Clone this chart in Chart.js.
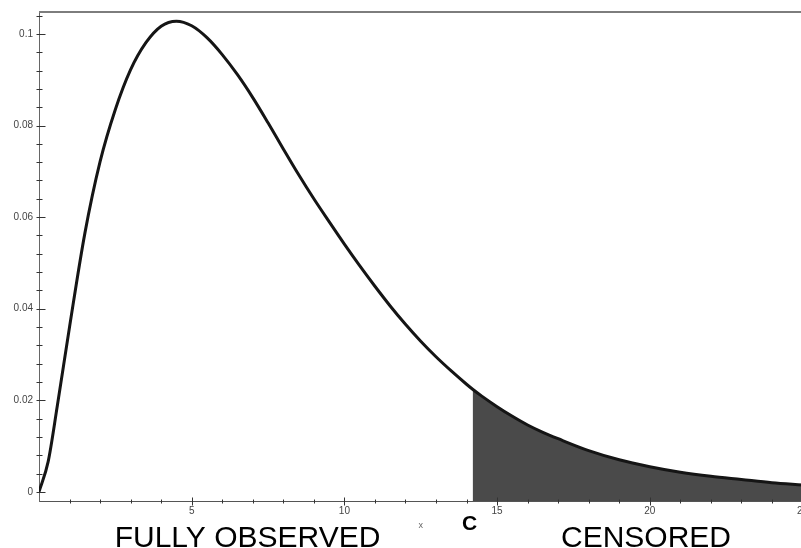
<!DOCTYPE html>
<html><head><meta charset="utf-8">
<script src="https://cdn.jsdelivr.net/npm/chart.js@4.4.0/dist/chart.umd.min.js"></script>
<style>
html,body{margin:0;padding:0;background:#fff;overflow:hidden;}
#wrap{width:801px;height:548px;overflow:hidden;position:relative;background:#fff;}
canvas{display:block;}
</style></head><body>
<div id="wrap"><canvas id="c" width="812" height="548" style="width:812px;height:548px"></canvas></div>
<script>
// ---- data ----
const xValues = [0, 0.3, 0.6, 1.0, 1.5, 2.0, 2.5, 3.0, 3.5, 4.0, 4.5, 5.0, 5.5, 6.0, 6.5, 7.0, 7.5, 8.0, 8.5, 9.0, 9.5,
  10.0, 10.5, 11.0, 11.5, 12.0, 12.5, 13.0, 13.5, 14.0, 14.2, 14.5, 15.0, 15.5, 16.0, 16.5, 17.0, 18.0, 19.0, 20.0,
  21.0, 22.0, 23.0, 24.0, 25.0];
const densityValues = [0, 0.0066, 0.0188, 0.0360, 0.0564, 0.0721, 0.0835, 0.0922, 0.0981, 0.1017, 0.1028, 0.1018,
  0.0992, 0.0955, 0.0911, 0.0861, 0.0806, 0.0749, 0.0693, 0.0640, 0.0590, 0.0541, 0.0494, 0.0449, 0.0406, 0.0366,
  0.0329, 0.0295, 0.0264, 0.0235, 0.0224, 0.0209, 0.0186, 0.0165, 0.0146, 0.0130, 0.0116, 0.0090, 0.0070, 0.0055,
  0.0043, 0.0034, 0.0027, 0.0020, 0.0015];
const censorPoint = 14.2;
const xMajorValues = [5, 10, 15, 20, 25];
const xTickLabels = ['5', '10', '15', '20', '25'];
const yMajorValues = [0, 0.02, 0.04, 0.06, 0.08, 0.1];
const yTickLabels = ['0', '0.02', '0.04', '0.06', '0.08', '0.1'];
const regionLabels = ['FULLY OBSERVED', 'CENSORED'];
const censorLabel = 'C';
const xAxisTitle = 'x';

// ---- build datasets ----
const curvePoints = xValues.map((x, i) => ({x: x, y: densityValues[i]}));
const censoredPoints = curvePoints.filter(p => p.x >= censorPoint);

// tick mark positions (minor + major)
const xTickPositions = [];
for (let i = 0; i <= 25; i++) xTickPositions.push(i);
const yTickPositions = [];
for (let i = 0; i <= 26; i++) yTickPositions.push(+(i * 0.004).toFixed(3));

const isMajorX = v => xMajorValues.some(m => Math.abs(m - v) < 1e-9);
const isMajorY = v => yMajorValues.some(m => Math.abs(m - v) < 1e-9);

const FONT = '"Liberation Sans", Arial, sans-serif';

const decor = {
  id: 'decor',
  afterDraw(chart) {
    const ctx = chart.ctx;
    const xs = chart.scales.x, ys = chart.scales.y;
    const ca = chart.chartArea;
    ctx.save();
    // top frame line
    ctx.strokeStyle = '#7d7d7d';
    ctx.lineWidth = 2;
    ctx.beginPath();
    ctx.moveTo(ca.left, ca.top);
    ctx.lineTo(ca.right, ca.top);
    ctx.stroke();
    // tick marks crossing the axes
    ctx.strokeStyle = '#333';
    ctx.lineWidth = 1;
    const axX = Math.round(ca.left) + 0.5;
    yTickPositions.forEach(v => {
      const y = Math.round(ys.getPixelForValue(v)) + 0.5;
      const major = isMajorY(v);
      ctx.beginPath();
      ctx.moveTo(axX - 3, y);
      ctx.lineTo(axX + (major ? 6 : 3), y);
      ctx.stroke();
    });
    const axY = Math.round(ca.bottom) + 0.5;
    xTickPositions.forEach(v => {
      if (v === 0) return;
      const x = Math.round(xs.getPixelForValue(v)) + 0.5;
      const major = isMajorX(v);
      ctx.beginPath();
      ctx.moveTo(x, axY - (major ? 4 : 2));
      ctx.lineTo(x, axY + (major ? 4 : 2));
      ctx.stroke();
    });
    // region labels
    ctx.fillStyle = '#000';
    ctx.textAlign = 'center';
    ctx.textBaseline = 'alphabetic';
    ctx.font = '30px ' + FONT;
    ctx.fillText(regionLabels[0], 247.5, 547);
    ctx.fillText(regionLabels[1], 646, 547);
    ctx.font = 'bold 21px ' + FONT;
    ctx.fillText(censorLabel, xs.getPixelForValue(censorPoint) - 3, 530);
    ctx.restore();
  }
};

new Chart(document.getElementById('c'), {
  type: 'line',
  data: {
    datasets: [
      {
        data: curvePoints,
        borderColor: '#151515',
        borderWidth: 3,
        pointRadius: 0,
        fill: false,
        cubicInterpolationMode: 'monotone'
      },
      {
        data: censoredPoints,
        borderWidth: 0,
        borderColor: 'rgba(0,0,0,0)',
        backgroundColor: '#4a4a4a',
        pointRadius: 0,
        fill: 'start',
        cubicInterpolationMode: 'monotone'
      }
    ]
  },
  options: {
    responsive: false,
    animation: false,
    events: [],
    layout: {padding: {top: 11, right: 8, left: 0, bottom: 0}},
    plugins: {legend: {display: false}, tooltip: {enabled: false}},
    scales: {
      x: {
        type: 'linear',
        min: 0,
        max: 25,
        afterFit: s => { s.height = 47; },
        afterBuildTicks: s => { s.ticks = xTickPositions.map(v => ({value: v})); },
        grid: {display: true, drawOnChartArea: false, drawTicks: false},
        border: {display: true, color: '#555', width: 1},
        ticks: {
          autoSkip: false,
          maxRotation: 0,
          padding: 4,
          color: '#444',
          font: {family: FONT, size: 10},
          callback: v => { const i = xMajorValues.findIndex(m => Math.abs(m - v) < 1e-9); return i >= 0 ? xTickLabels[i] : ''; }
        },
        title: {
          display: true,
          text: xAxisTitle,
          color: '#666',
          font: {family: FONT, size: 9},
          padding: {top: 0, bottom: 17}
        }
      },
      y: {
        type: 'linear',
        min: -0.002,
        max: 0.1048,
        afterFit: s => { s.width = 39; },
        afterBuildTicks: s => { s.ticks = yTickPositions.map(v => ({value: v})); },
        grid: {display: true, drawOnChartArea: false, drawTicks: false},
        border: {display: true, color: '#666', width: 1},
        ticks: {
          autoSkip: false,
          padding: 6,
          color: '#444',
          font: {family: FONT, size: 10},
          callback: v => { const i = yMajorValues.findIndex(m => Math.abs(m - v) < 1e-9); return i >= 0 ? yTickLabels[i] : ''; }
        }
      }
    }
  },
  plugins: [decor]
});
</script>
</body></html>
